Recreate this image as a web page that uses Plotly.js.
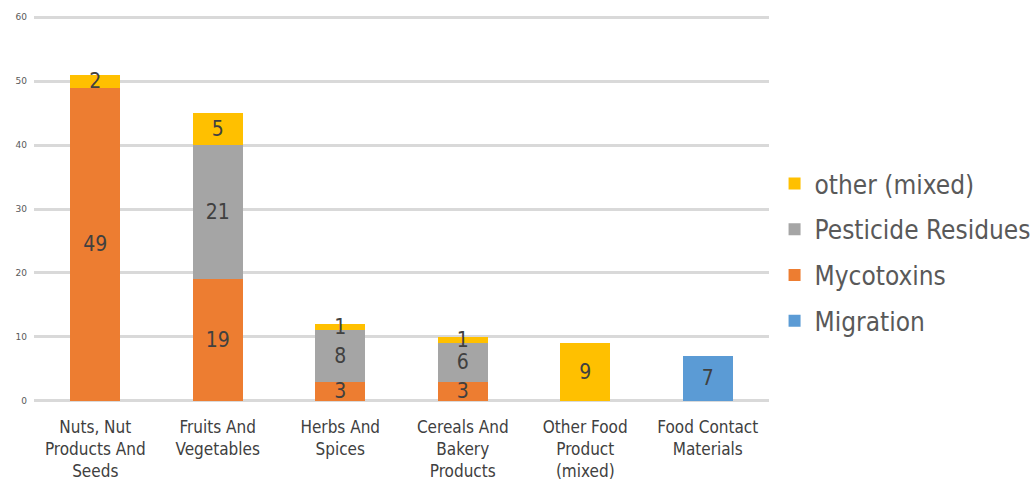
<!DOCTYPE html>
<html>
<head>
<meta charset="utf-8">
<script src="https://cdn.plot.ly/plotly-3.0.1.min.js"></script>
<style>html,body{margin:0;padding:0;background:#fff;}#chart{width:1030px;height:488px;}</style>
</head>
<body>
<div id="chart"></div>
<script>
const categories = ["Nuts, Nut<br>Products And<br>Seeds", "Fruits And<br>Vegetables", "Herbs And<br>Spices", "Cereals And<br>Bakery<br>Products", "Other Food<br>Product<br>(mixed)", "Food Contact<br>Materials"];
const migration = [0, 0, 0, 0, 0, 7];
const mycotoxins = [49, 19, 3, 3, 0, 0];
const pesticide = [0, 21, 8, 6, 0, 0];
const otherMixed = [2, 5, 1, 1, 9, 0];
const yTicks = [0, 10, 20, 30, 40, 50, 60];

const FONT = "'DejaVu Sans Condensed', sans-serif";
function mk(name, vals, color, rank) {
  return {
    type: 'bar', name: name, x: categories, y: vals,
    marker: {color: color},
    legendgroup: name, legendrank: rank,
    text: vals.map(v => v ? String(v) : ''),
    textposition: 'inside', insidetextanchor: 'middle', constraintext: 'none', textangle: 0,
    textfont: {family: FONT, size: 21, color: '#404040'},
    hoverinfo: 'name+y'
  };
}
const data = [
  mk('Migration', migration, '#5B9BD5', 4),
  mk('Mycotoxins', mycotoxins, '#ED7D31', 3),
  mk('Pesticide Residues', pesticide, '#A5A5A5', 2),
  mk('other (mixed)', otherMixed, '#FFC000', 1)
];
const layout = {
  width: 1030, height: 488,
  margin: {l: 34, r: 261, t: 16, b: 86},
  barmode: 'stack', bargap: 0.592,
  paper_bgcolor: '#fff', plot_bgcolor: '#fff',
  xaxis: {tickfont: {family: FONT, size: 17, color: '#404040'}, showgrid: false, zeroline: false, showline: false, ticks: '', ticklabelstandoff: 13},
  yaxis: {range: [-0.2, 60.2], tickvals: yTicks, ticktext: yTicks.map(String), showgrid: true, gridcolor: '#D9D9D9', gridwidth: 2.5,
          zeroline: false, tickfont: {family: 'DejaVu Sans', size: 9, color: '#595959'}, ticklen: 0, ticks: '', ticklabelstandoff: 6},
  legend: {xref: 'container', yref: 'container', x: 0.752, y: 1 - 160/488, xanchor: 'left', yanchor: 'top', traceorder: 'grouped',
           font: {family: FONT, size: 26, color: '#595959'}, tracegroupgap: 9, bgcolor: 'rgba(0,0,0,0)'},
  showlegend: true
};
Plotly.newPlot('chart', data, layout, {displayModeBar: false});
</script>
</body>
</html>
